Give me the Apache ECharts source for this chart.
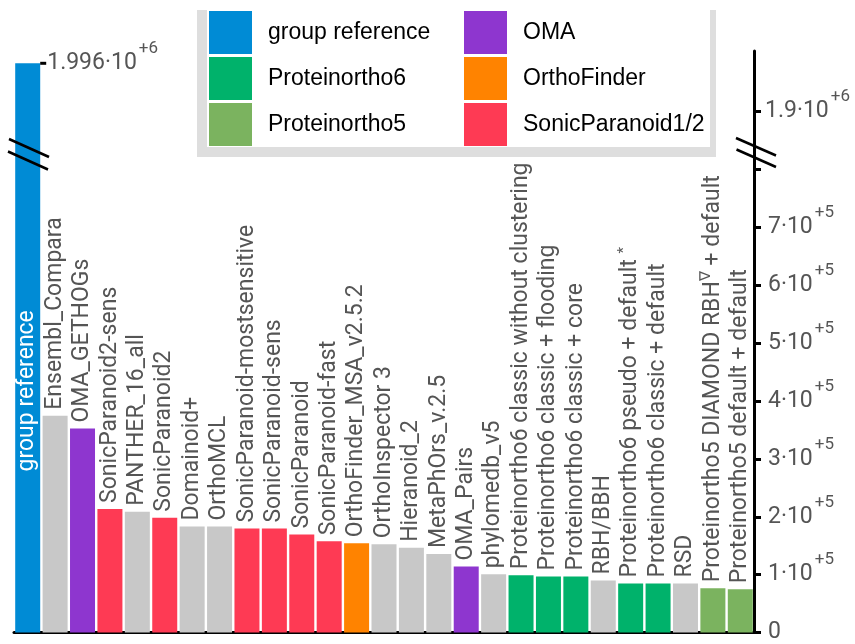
<!DOCTYPE html>
<html>
<head>
<meta charset="utf-8">
<script src="https://cdn.jsdelivr.net/npm/echarts@6/dist/echarts.min.js"></script>
<style>html,body{margin:0;padding:0;background:#fff}#c{width:855px;height:644px}</style>
</head>
<body>
<div id="c"></div>
<script>
// ---- data ----
const categories = [
  'group reference','Ensembl_Compara','OMA_GETHOGs','SonicParanoid2-sens','PANTHER_16_all',
  'SonicParanoid2','Domainoid+','OrthoMCL','SonicParanoid-mostsensitive','SonicParanoid-sens',
  'SonicParanoid','SonicParanoid-fast','OrthoFinder_MSA_v2.5.2','OrthoInspector 3','Hieranoid_2',
  'MetaPhOrs_v.2.5','OMA_Pairs','phylomedb_v5','Proteinortho6 classic without clustering',
  'Proteinortho6 classic + flooding','Proteinortho6 classic + core','RBH/BBH',
  'Proteinortho6 pseudo + default *','Proteinortho6 classic + default','RSD',
  'Proteinortho5 DIAMOND RBH∇ + default','Proteinortho5 default + default'
];
const values = [
  1996000, 374600, 352500, 213600, 208500,
  198300, 183100, 183100, 179700, 179700,
  169500, 157600, 154200, 152500, 146300,
  135600, 114100, 100500, 98800,
  96600, 96600, 89800,
  84700, 84700, 84700,
  76300, 74600
];
const groups = [
  'group reference','other','OMA','SonicParanoid1/2','other',
  'SonicParanoid1/2','other','other','SonicParanoid1/2','SonicParanoid1/2',
  'SonicParanoid1/2','SonicParanoid1/2','OrthoFinder','other','other',
  'other','OMA','other','Proteinortho6',
  'Proteinortho6','Proteinortho6','other',
  'Proteinortho6','Proteinortho6','other',
  'Proteinortho5','Proteinortho5'
];
const legendCol1 = ['group reference','Proteinortho6','Proteinortho5'];
const legendCol2 = ['OMA','OrthoFinder','SonicParanoid1/2'];
const groupColors = {
  'group reference':'#008bd5','Proteinortho6':'#00b26b','Proteinortho5':'#7bb35f',
  'OMA':'#8e36cf','OrthoFinder':'#ff8300','SonicParanoid1/2':'#fe3a54','other':'#c8c8c8'
};
const lowerTicks = [0,100000,200000,300000,400000,500000,600000,700000,800000];
const lowerLabels = [0,100000,200000,300000,400000,500000,600000,700000];
const upperTicks = [1900000];

// ---- helpers ----
const GRAY = '#555';
function sci(v){
  if (v === 0) return '{m|0}';
  const e = Math.floor(Math.log10(v) + 1e-9);
  const mant = +(v / Math.pow(10, e)).toPrecision(6);
  return '{m|' + mant + '·10}{e|+' + e + '}';
}
const sciRich = {
  m:{fontSize:23,color:GRAY,fontFamily:'Roboto',lineHeight:46},
  e:{fontSize:17,color:GRAY,fontFamily:'Roboto',lineHeight:17,verticalAlign:'top',padding:[0,0,0,2]},
  t:{width:6,height:3,lineHeight:3,backgroundColor:'#000'}
};
function nameFmt(p){
  return p.name.replace(/ \*$/, ' {sup|*}').replace(/∇/g, '{sup|∇}');
}
const nameLabel = {
  show:true, position:'top', distance:6, rotate:90, align:'left', verticalAlign:'middle',
  color:GRAY, fontSize:23, fontFamily:'Roboto', lineHeight:28, formatter:nameFmt,
  rich:{sup:{fontSize:15,color:GRAY,fontFamily:'Roboto',lineHeight:12,verticalAlign:'top'}}
};

const allGroups = legendCol1.concat(legendCol2, ['other']);
const series = allGroups.map(g => {
  const s = {
    name: g, type:'bar', xAxisIndex:0, yAxisIndex:0, barWidth:25, barGap:'-100%',
    itemStyle:{color:groupColors[g]},
    data: values.map((v,i) => groups[i] === g ? v : '-'),
    label: nameLabel, emphasis:{disabled:true}
  };
  if (g === 'group reference') {
    s.label = {show:true, position:'insideBottom', distance:161, rotate:90, align:'left',
      verticalAlign:'middle', color:'#fff', fontSize:23, fontFamily:'Roboto', formatter:'{b}'};
  }
  return s;
});
series.push({
  name:'group reference', type:'bar', xAxisIndex:1, yAxisIndex:1, barWidth:25, barGap:'-100%',
  itemStyle:{color:groupColors['group reference']},
  data: values.map((v,i) => groups[i] === 'group reference' ? v : '-'),
  label:{show:true, position:[25,0], align:'left', verticalAlign:'middle',
    formatter: p => '{t|}{s|}' + sci(p.value), rich: Object.assign({s:{width:1}}, sciRich)},
  emphasis:{disabled:true}
});

const legendBase = {
  orient:'vertical', top:11, padding:0,
  itemWidth:43, itemHeight:43, itemGap:3, icon:'rect', selectedMode:false,
  textStyle:{fontFamily:'Liberation Sans', fontSize:23, color:'#000', padding:[0,0,0,11]}
};

const chart = echarts.init(document.getElementById('c'), null, {renderer:'canvas'});
chart.setOption({
  animation:false,
  backgroundColor:'#fff',
  grid:[
    {left:14, right:101, top:152, bottom:2},
    {left:14, right:101, top:51, height:101}
  ],
  xAxis:[
    {type:'category', gridIndex:0, data:categories,
     axisLine:{show:true, lineStyle:{color:'#000', width:3}}, axisTick:{show:false}, axisLabel:{show:false}},
    {type:'category', gridIndex:1, data:categories, show:false}
  ],
  yAxis:[
    {type:'value', gridIndex:0, position:'right', min:0, max:830500,
     axisLine:{show:true, lineStyle:{color:'#000', width:3}},
     axisTick:{show:true, length:7, lineStyle:{color:'#000', width:3}, customValues:lowerTicks},
     axisLabel:{margin:14, formatter:sci, rich:sciRich, customValues:lowerLabels},
     splitLine:{show:false}},
    {type:'value', gridIndex:1, position:'right', min:1820000, max:2020400,
     axisLine:{show:true, lineStyle:{color:'#000', width:3}},
     axisTick:{show:true, length:7, lineStyle:{color:'#000', width:3}, customValues:upperTicks},
     axisLabel:{margin:11, formatter:sci, rich:sciRich, customValues:upperTicks},
     splitLine:{show:false}}
  ],
  legend:[
    Object.assign({data:legendCol1, left:209}, legendBase),
    Object.assign({data:legendCol2, left:464}, legendBase)
  ],
  graphic:[
    {type:'rect', z:3, shape:{x:197, y:10, width:519, height:147}, style:{fill:'#dedede'}},
    {type:'rect', z:3, shape:{x:207, y:10, width:503, height:137}, style:{fill:'#fff'}},
    {type:'line', z:100, shape:{x1:736, y1:138, x2:776, y2:155.5}, style:{stroke:'#000', lineWidth:2.5}},
    {type:'line', z:100, shape:{x1:736.5, y1:149.5, x2:776, y2:167}, style:{stroke:'#000', lineWidth:2.5}},
    {type:'line', z:100, shape:{x1:9, y1:139, x2:49, y2:157}, style:{stroke:'#000', lineWidth:2.5}},
    {type:'line', z:100, shape:{x1:8, y1:151.5, x2:48, y2:169.5}, style:{stroke:'#000', lineWidth:2.5}}
  ],
  series: series
});
</script>
</body>
</html>
